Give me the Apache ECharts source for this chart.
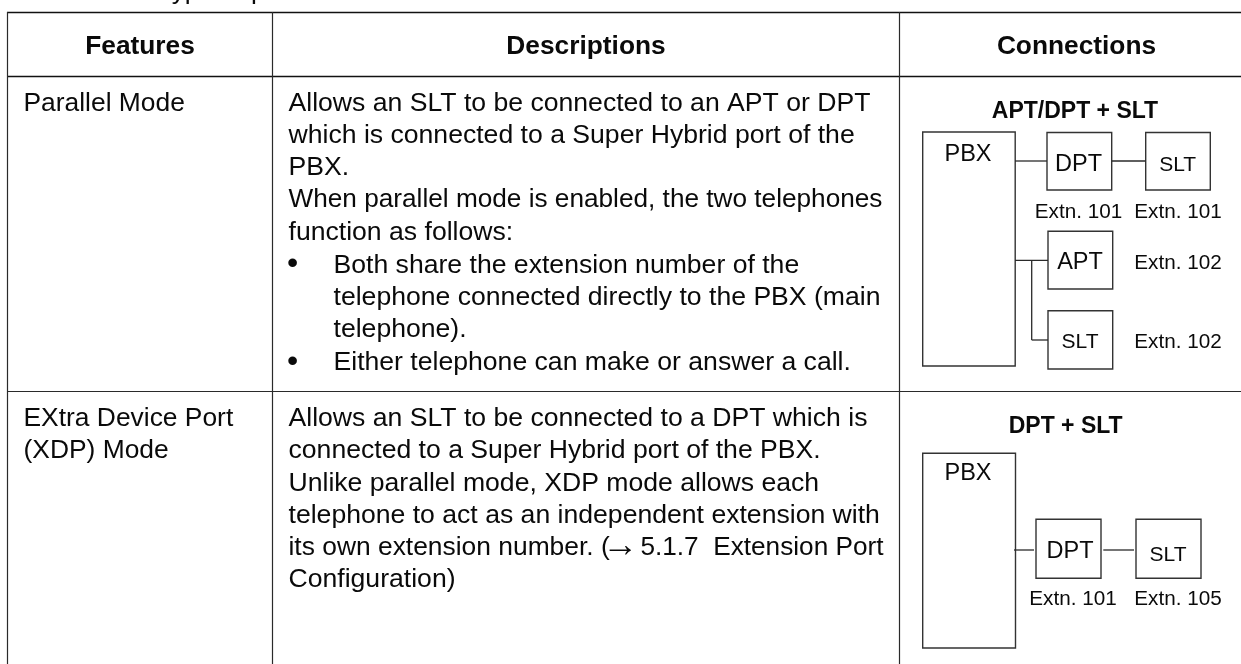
<!DOCTYPE html>
<html>
<head>
<meta charset="utf-8">
<style>html,body{margin:0;padding:0;background:#fff}#c{width:1241px;height:664px}</style>
<script src="https://cdn.jsdelivr.net/npm/echarts@6/dist/echarts.min.js"></script>
</head>
<body>
<div id="c"></div>
<script>
var headers = ['Features', 'Descriptions', 'Connections'];
var features1 = ['Parallel Mode'];
var features2 = ['EXtra Device Port', '(XDP) Mode'];
var desc1 = ['Allows an SLT to be connected to an APT or DPT',
  'which is connected to a Super Hybrid port of the',
  'PBX.',
  'When parallel mode is enabled, the two telephones',
  'function as follows:'];
var bullets1 = ['Both share the extension number of the',
  'telephone connected directly to the PBX (main',
  'telephone).',
  'Either telephone can make or answer a call.'];
var bulletMarks = ['\u2022', '', '', '\u2022'];
var desc2 = ['Allows an SLT to be connected to a DPT which is',
  'connected to a Super Hybrid port of the PBX.',
  'Unlike parallel mode, XDP mode allows each',
  'telephone to act as an independent extension with'];
var desc2Ref = ['its own extension number. (', '\u2192', '5.1.7  Extension Port'];
var desc2End = ['Configuration)'];
var diagramTitles = ['APT/DPT + SLT', 'DPT + SLT'];
var cutOffLine = 'Type of port';

var FONT = '"Liberation Sans", Arial, sans-serif';
var INK = '#0a0a0a';
var LINE = '#2a2a2a';
var BODY = 26.6, HEAD = 26.3, TITLE = 23, BIG = 23.5, SMALL = 21, EXT = 20.7;
var g = [];
function txt(s, x, base, size, opt) {
  opt = opt || {};
  g.push({type: 'text', silent: true, style: {
    text: s, x: x, y: base - 0.2329 * size,
    font: (opt.bold ? 'bold ' : '') + size + 'px ' + FONT,
    fill: INK, textAlign: opt.align || 'left', textVerticalAlign: 'middle'
  }});
}
function seg(x1, y1, x2, y2, w, c) {
  g.push({type: 'line', silent: true, shape: {x1: x1, y1: y1, x2: x2, y2: y2},
    style: {stroke: c || LINE, lineWidth: w || 1.5}});
}
function box(x1, y1, x2, y2) {
  g.push({type: 'rect', silent: true, shape: {x: x1, y: y1, width: x2 - x1, height: y2 - y1},
    style: {stroke: '#333', lineWidth: 1.4, fill: 'none'}});
}

// table rules
seg(7, 12.5, 1241, 12.5, 1.6, '#111');
seg(7, 76.5, 1241, 76.5, 1.6, '#111');
seg(7, 391.5, 1241, 391.5, 1.2);
seg(7.5, 12, 7.5, 664, 1.2);
seg(272.5, 12, 272.5, 664, 1.2);
seg(899.5, 12, 899.5, 664, 1.2);

// cut-off line above the table
txt(cutOffLine, 157, -2, 26.4);

// headers
txt(headers[0], 140, 53, HEAD, {bold: true, align: 'center'});
txt(headers[1], 586, 53, HEAD, {bold: true, align: 'center'});
txt(headers[2], 1076.5, 53, HEAD, {bold: true, align: 'center'});

// first column
txt(features1[0], 23.5, 109.5, 26.4);
[425, 457.3].forEach(function (b, i) { txt(features2[i], 23.5, b, 26.4); });

// second column
[109.5, 141.8, 174.2, 206.3, 238.5].forEach(function (b, i) {
  txt(desc1[i], 288.5, b, i === 3 ? 26.2 : BODY);
});
[271.5, 304, 336.3, 369].forEach(function (b, i) {
  if (bulletMarks[i]) txt(bulletMarks[i], 287.1, b + 0.5, 32);
  txt(bullets1[i], 333.5, b, BODY);
});
[425, 457.3, 489.5, 521.8].forEach(function (b, i) { txt(desc2[i], 288.5, b, BODY); });
txt(desc2Ref[0], 288.5, 554, 26.4);
txt(desc2Ref[1], 602.6, 554.5, 36);
txt(desc2Ref[2], 883.5, 554, 26.2, {align: 'right'});
txt(desc2End[0], 288.5, 586.3, BODY);

// diagram 1
txt(diagramTitles[0], 1075, 117, TITLE, {bold: true, align: 'center'});
box(922.7, 132, 1015.2, 366);
box(1047, 132.5, 1111.7, 190);
box(1145.7, 132.5, 1210.3, 190);
box(1048, 231.3, 1112.7, 289);
box(1048, 310.7, 1112.7, 369);
seg(1015, 161, 1047, 161, 1.3);
seg(1111.7, 161, 1145.7, 161, 1.3);
seg(1015, 260.3, 1048, 260.3, 1.3);
seg(1031.7, 260.3, 1031.7, 340, 1.3);
seg(1031.7, 340, 1048, 340, 1.3);
txt('PBX', 968, 160, BIG, {align: 'center'});
txt('DPT', 1078.5, 169.5, BIG, {align: 'center'});
txt('SLT', 1177.7, 170, SMALL, {align: 'center'});
txt('Extn. 101', 1078.5, 216.7, EXT, {align: 'center'});
txt('Extn. 101', 1178, 216.7, EXT, {align: 'center'});
txt('APT', 1080, 268, BIG, {align: 'center'});
txt('Extn. 102', 1178, 268, EXT, {align: 'center'});
txt('SLT', 1080, 346.7, SMALL, {align: 'center'});
txt('Extn. 102', 1178, 346.7, EXT, {align: 'center'});

// diagram 2
txt(diagramTitles[1], 1065.7, 431.7, TITLE, {bold: true, align: 'center'});
box(922.7, 453.3, 1015.5, 648);
box(1036, 519.3, 1101, 578.3);
box(1136, 519.3, 1201, 578.3);
seg(1014, 550, 1034, 550, 1.3);
seg(1103.3, 550, 1134, 550, 1.3);
txt('PBX', 968, 479, BIG, {align: 'center'});
txt('DPT', 1070, 556.7, BIG, {align: 'center'});
txt('SLT', 1168, 560, SMALL, {align: 'center'});
txt('Extn. 101', 1073, 604, EXT, {align: 'center'});
txt('Extn. 105', 1178, 604, EXT, {align: 'center'});

var chart = echarts.init(document.getElementById('c'), null, {renderer: 'canvas'});
chart.setOption({animation: false, backgroundColor: '#fff', graphic: {elements: g}});
</script>
</body>
</html>
